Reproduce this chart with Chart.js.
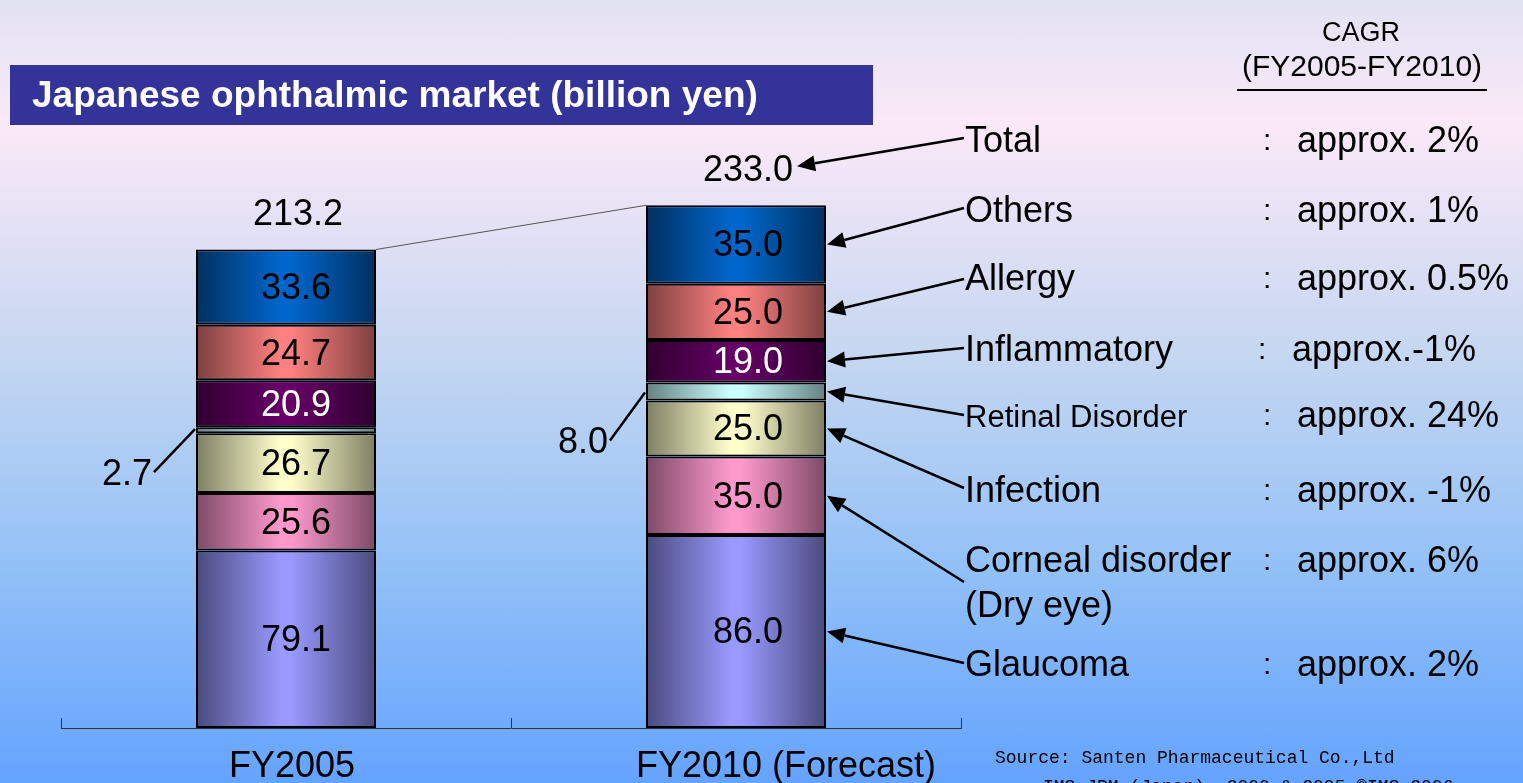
<!DOCTYPE html>
<html><head><meta charset="utf-8">
<script src="https://cdn.jsdelivr.net/npm/chart.js@4.4.1/dist/chart.umd.min.js"></script>
<style>
html,body{margin:0;padding:0;width:1523px;height:783px;overflow:hidden;
background:linear-gradient(to bottom,#e2e2f2 0%,#fbe9f8 16%,#c6d7f1 45%,#93c1f7 72%,#64a3fe 100%);}
#wrap{position:absolute;left:0;top:0;width:1523px;height:783px;}
canvas{display:block;}
</style></head><body><div id="wrap"><canvas id="c" width="1523" height="783"></canvas></div>
<script>
// ---- data ----
const categories = ['FY2005', 'FY2010 (Forecast)'];
const glaucoma = [79.1, 86.0];
const cornealDisorder = [25.6, 35.0];
const infection = [26.7, 25.0];
const retinalDisorder = [2.7, 8.0];
const inflammatory = [20.9, 19.0];
const allergy = [24.7, 25.0];
const others = [33.6, 35.0];
const totals = [213.2, 233.0];
const seriesNames = ['Glaucoma', 'Corneal disorder', 'Infection', 'Retinal Disorder', 'Inflammatory', 'Allergy', 'Others'];
const rowLabels = ['Total', 'Others', 'Allergy', 'Inflammatory', 'Retinal Disorder', 'Infection', 'Corneal disorder', 'Glaucoma'];
const rowCagr = ['approx. 2%', 'approx. 1%', 'approx. 0.5%', 'approx.-1%', 'approx. 24%', 'approx. -1%', 'approx. 6%', 'approx. 2%'];
const chartTitle = 'Japanese ophthalmic market (billion yen)';
const cagrTitle = 'CAGR';
const cagrPeriod = '(FY2005-FY2010)';
const sourceLines = ['Source: Santen Pharmaceutical Co.,Ltd', 'IMS-JPM (Japan), 2000 & 2005 \u00A9IMS 2006'];

// ---- styles ----
const seriesData = [glaucoma, cornealDisorder, infection, retinalDisorder, inflammatory, allergy, others];
const lightCols = ['#9999ff', '#ff99cc', '#ffffcc', '#ccffff', '#660066', '#ff8080', '#0066cc'];
const darkCols  = ['#4a4a7e', '#7d4a66', '#7e7e64', '#648080', '#300030', '#7e4040', '#00305f'];
const labelCols = ['#000', '#000', '#000', '#000', '#fff', '#000', '#000'];
const rowSeries = [-1, 6, 5, 4, 3, 2, 1, 0];
const rowBase = [152, 222, 290, 361, 427, 502, 572, 676];
const rowArrowY = [138, 208, 279, 348, 415, 488, 582, 663];
const rowFont = [36, 36, 36, 36, 31, 36, 36, 36];
const FONT = '"Liberation Sans", Arial, sans-serif';

function barGrad(light, dark) {
  return (ctx) => {
    const chart = ctx.chart;
    if (!chart.chartArea || ctx.type !== 'data') return light;
    const xs = chart.scales.x;
    const cx = xs.getPixelForValue(ctx.dataIndex);
    const w = (xs.width / categories.length) * 0.4;
    const g = chart.ctx.createLinearGradient(cx - w / 2, 0, cx + w / 2, 0);
    g.addColorStop(0, dark);
    g.addColorStop(0.47, light);
    g.addColorStop(0.53, light);
    g.addColorStop(1, dark);
    return g;
  };
}

function arrow(c, x1, y1, x2, y2) {
  const a = Math.atan2(y2 - y1, x2 - x1);
  const L = 18, W = 8;
  const bx = x2 - L * Math.cos(a), by = y2 - L * Math.sin(a);
  c.beginPath(); c.moveTo(x1, y1); c.lineTo(bx, by); c.stroke();
  c.beginPath(); c.moveTo(x2, y2);
  c.lineTo(bx + W * Math.sin(a), by - W * Math.cos(a));
  c.lineTo(bx - W * Math.sin(a), by + W * Math.cos(a));
  c.closePath(); c.fill();
}

const overlay = {
  id: 'overlay',
  afterDatasetsDraw(chart) {
    const c = chart.ctx;
    const xs = chart.scales.x;
    const area = chart.chartArea;
    const metas = seriesData.map((d, i) => chart.getDatasetMeta(i));
    c.save();
    // title box
    c.fillStyle = '#333399';
    c.fillRect(10, 65, 863, 60);
    c.fillStyle = '#ffffff';
    c.font = 'bold 37px ' + FONT;
    c.textAlign = 'left'; c.textBaseline = 'alphabetic';
    c.fillText(chartTitle, 32, 107);

    // axis tick marks (pointing up)
    c.strokeStyle = '#333'; c.lineWidth = 1;
    const n = categories.length;
    for (let i = 0; i <= n; i++) {
      const x = Math.round(xs.left + i * xs.width / n) + 0.5;
      c.beginPath(); c.moveTo(x, area.bottom - 10); c.lineTo(x, area.bottom); c.stroke();
    }

    // category labels
    const catOffset = [6, 50];
    c.fillStyle = '#000'; c.font = '36px ' + FONT; c.textAlign = 'center';
    categories.forEach((lab, i) => {
      c.fillText(lab, xs.getPixelForValue(i) + catOffset[i], 777);
    });

    // segment value labels
    const valOffset = [10, 12];
    c.font = '36px ' + FONT; c.textAlign = 'center'; c.textBaseline = 'middle';
    metas.forEach((m, di) => {
      if (di === 3) return;
      m.data.forEach((el, i) => {
        c.fillStyle = labelCols[di];
        c.fillText(seriesData[di][i].toFixed(1), el.x + valOffset[i], (el.y + el.base) / 2 + 2);
      });
    });

    // retinal disorder small labels with leader lines
    c.fillStyle = '#000'; c.strokeStyle = '#000'; c.lineWidth = 2.5;
    c.textBaseline = 'alphabetic'; c.textAlign = 'right';
    const lead = [{tx: -44, ty: 55, lx: -42, ly: 42, ey: -1}, {tx: -38, ty: 61, lx: -36, ly: 49, ey: 1}];
    metas[3].data.forEach((el, i) => {
      const left = el.x - el.width / 2;
      const cy = (el.y + el.base) / 2;
      const L = lead[i];
      c.fillText(retinalDisorder[i].toFixed(1), left + L.tx, cy + L.ty);
      c.beginPath(); c.moveTo(left + L.lx, cy + L.ly); c.lineTo(left - 1, cy + L.ey); c.stroke();
    });

    // totals
    c.textAlign = 'center';
    const totalPos = [];
    metas[6].data.forEach((el, i) => {
      const tx = el.x + 12, ty = el.y - 24;
      c.fillText(totals[i].toFixed(1), tx, ty);
      totalPos.push({right: tx + c.measureText(totals[i].toFixed(1)).width / 2, y: ty - 15});
    });

    // connector line between bar tops
    const t0 = metas[6].data[0], t1 = metas[6].data[1];
    c.strokeStyle = '#555'; c.lineWidth = 1;
    c.beginPath(); c.moveTo(t0.x + t0.width / 2, t0.y); c.lineTo(t1.x - t1.width / 2, t1.y); c.stroke();

    // right-side labels with arrows
    c.strokeStyle = '#000'; c.fillStyle = '#000'; c.lineWidth = 2.5;
    const last = categories.length - 1;
    rowLabels.forEach((lab, r) => {
      const sx = 964, sy = rowArrowY[r];
      let ex, ey;
      if (rowSeries[r] < 0) {
        ex = totalPos[last].right + 4; ey = totalPos[last].y;
      } else {
        const el = metas[rowSeries[r]].data[last];
        ex = el.x + el.width / 2 + 1; ey = (el.y + el.base) / 2;
      }
      arrow(c, sx, sy, ex, ey);
      c.textAlign = 'left'; c.textBaseline = 'alphabetic';
      c.font = rowFont[r] + 'px ' + FONT;
      c.fillText(lab, 965, rowBase[r]);
      if (r === 6) c.fillText('(Dry eye)', 965, 617);
      c.font = '30px ' + FONT;
      const shift = r === 3 ? -5 : 0;
      c.fillText(':', 1263 + shift, rowBase[r] - 2);
      c.font = '36px ' + FONT;
      c.fillText(rowCagr[r], 1297 + shift, rowBase[r]);
    });

    // CAGR header
    c.textAlign = 'center';
    c.font = '27px ' + FONT;
    c.fillText(cagrTitle, 1361, 41);
    c.font = '30px ' + FONT;
    c.fillText(cagrPeriod, 1362, 76);
    c.lineWidth = 2;
    c.beginPath(); c.moveTo(1237, 90); c.lineTo(1487, 90); c.stroke();

    // source
    c.textAlign = 'left';
    c.font = '18px "Liberation Mono", "DejaVu Sans Mono", monospace';
    c.fillText(sourceLines[0], 995, 763);
    c.fillText(sourceLines[1], 1043, 792);
    c.restore();
  }
};

new Chart(document.getElementById('c'), {
  type: 'bar',
  data: {
    labels: categories,
    datasets: seriesNames.map((name, i) => ({
      label: name,
      data: seriesData[i],
      backgroundColor: barGrad(lightCols[i], darkCols[i]),
      borderColor: '#000',
      borderWidth: 2,
      borderSkipped: false,
      barPercentage: 0.4,
      categoryPercentage: 1
    }))
  },
  options: {
    responsive: false,
    animation: false,
    devicePixelRatio: 1,
    layout: {padding: {left: 61, right: 562, top: 55, bottom: 0}},
    plugins: {legend: {display: false}, tooltip: {enabled: false}, title: {display: false}},
    scales: {
      x: {
        stacked: true,
        grid: {display: false},
        border: {display: true, color: '#333', width: 1},
        ticks: {display: false},
        afterFit(s) { s.height = 55; }
      },
      y: {stacked: true, display: false, min: 0, max: 300}
    }
  },
  plugins: [overlay]
});
</script>
</body></html>
